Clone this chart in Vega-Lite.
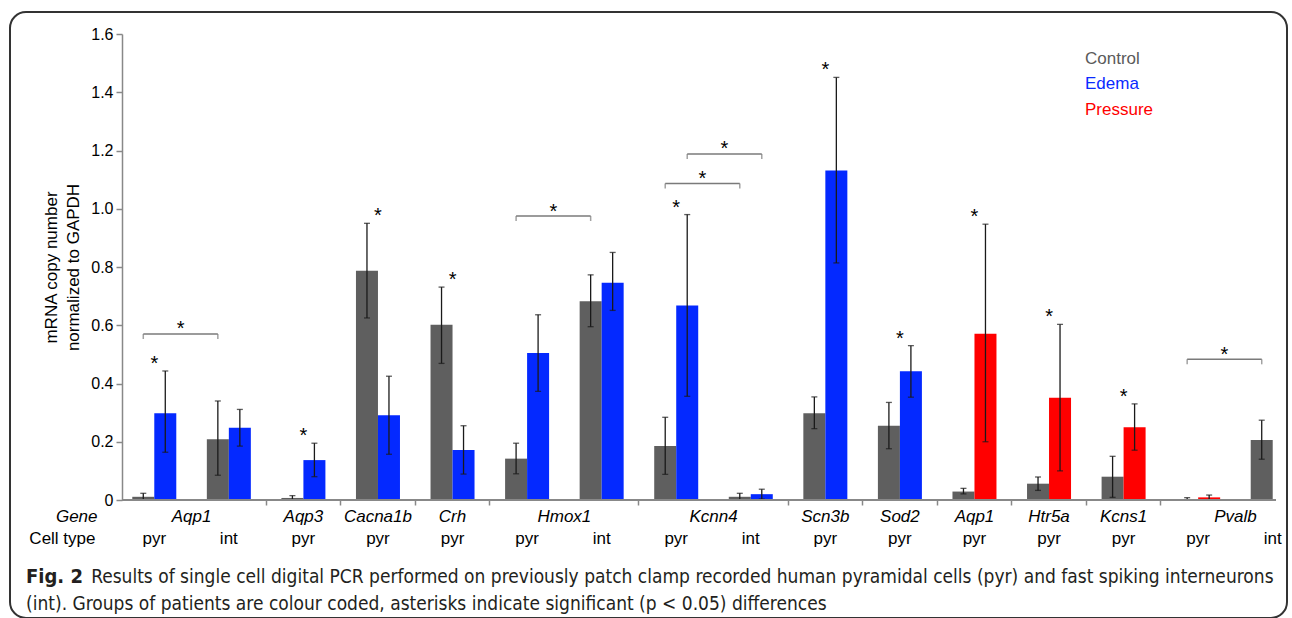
{
  "$schema": "https://vega.github.io/schema/vega-lite/v6.json",
  "autosize": "none",
  "padding": {"left": 10, "top": 12, "right": 3, "bottom": 0},
  "width": 1277,
  "height": 606,
  "title": {
    "text": "Fig. 2",
    "subtitle": ["\u200b\u00a0\u00a0\u00a0\u00a0\u00a0\u00a0\u00a0\u00a0\u00a0\u00a0\u00a0\u00a0Results of single cell digital PCR performed on previously patch clamp recorded human pyramidal cells (pyr) and fast spiking interneurons", "(int). Groups of patients are colour coded, asterisks indicate significant (p < 0.05) differences"],
    "orient": "bottom",
    "anchor": "start",
    "frame": "group",
    "dx": 16,
    "offset": -51,
    "font": "DejaVu Sans Condensed",
    "fontSize": 20,
    "fontWeight": "bold",
    "color": "#231f20",
    "subtitleFont": "DejaVu Sans Condensed",
    "subtitleFontSize": 19,
    "subtitleColor": "#231f20",
    "subtitlePadding": -19,
    "subtitleLineHeight": 27
  },
  "datasets": {
    "bars": [
      {"gene": "Aqp1", "cell": "pyr", "comparison": "Edema", "group": "Control", "value": 0.011, "lo": 0.0, "hi": 0.023, "sig": false},
      {"gene": "Aqp1", "cell": "pyr", "comparison": "Edema", "group": "Edema", "value": 0.298, "lo": 0.164, "hi": 0.443, "sig": true},
      {"gene": "Aqp1", "cell": "int", "comparison": "Edema", "group": "Control", "value": 0.209, "lo": 0.085, "hi": 0.340, "sig": false},
      {"gene": "Aqp1", "cell": "int", "comparison": "Edema", "group": "Edema", "value": 0.248, "lo": 0.185, "hi": 0.311, "sig": false},
      {"gene": "Aqp3", "cell": "pyr", "comparison": "Edema", "group": "Control", "value": 0.007, "lo": 0.0, "hi": 0.015, "sig": false},
      {"gene": "Aqp3", "cell": "pyr", "comparison": "Edema", "group": "Edema", "value": 0.137, "lo": 0.080, "hi": 0.195, "sig": true},
      {"gene": "Cacna1b", "cell": "pyr", "comparison": "Edema", "group": "Control", "value": 0.787, "lo": 0.625, "hi": 0.950, "sig": false},
      {"gene": "Cacna1b", "cell": "pyr", "comparison": "Edema", "group": "Edema", "value": 0.291, "lo": 0.157, "hi": 0.425, "sig": true},
      {"gene": "Crh", "cell": "pyr", "comparison": "Edema", "group": "Control", "value": 0.602, "lo": 0.469, "hi": 0.731, "sig": false},
      {"gene": "Crh", "cell": "pyr", "comparison": "Edema", "group": "Edema", "value": 0.172, "lo": 0.089, "hi": 0.255, "sig": true},
      {"gene": "Hmox1", "cell": "pyr", "comparison": "Edema", "group": "Control", "value": 0.142, "lo": 0.090, "hi": 0.195, "sig": false},
      {"gene": "Hmox1", "cell": "pyr", "comparison": "Edema", "group": "Edema", "value": 0.505, "lo": 0.373, "hi": 0.636, "sig": false},
      {"gene": "Hmox1", "cell": "int", "comparison": "Edema", "group": "Control", "value": 0.682, "lo": 0.595, "hi": 0.773, "sig": false},
      {"gene": "Hmox1", "cell": "int", "comparison": "Edema", "group": "Edema", "value": 0.746, "lo": 0.651, "hi": 0.850, "sig": false},
      {"gene": "Kcnn4", "cell": "pyr", "comparison": "Edema", "group": "Control", "value": 0.185, "lo": 0.088, "hi": 0.284, "sig": false},
      {"gene": "Kcnn4", "cell": "pyr", "comparison": "Edema", "group": "Edema", "value": 0.668, "lo": 0.356, "hi": 0.980, "sig": true},
      {"gene": "Kcnn4", "cell": "int", "comparison": "Edema", "group": "Control", "value": 0.011, "lo": 0.0, "hi": 0.023, "sig": false},
      {"gene": "Kcnn4", "cell": "int", "comparison": "Edema", "group": "Edema", "value": 0.020, "lo": 0.003, "hi": 0.037, "sig": false},
      {"gene": "Scn3b", "cell": "pyr", "comparison": "Edema", "group": "Control", "value": 0.298, "lo": 0.245, "hi": 0.354, "sig": false},
      {"gene": "Scn3b", "cell": "pyr", "comparison": "Edema", "group": "Edema", "value": 1.131, "lo": 0.814, "hi": 1.451, "sig": true},
      {"gene": "Sod2", "cell": "pyr", "comparison": "Edema", "group": "Control", "value": 0.255, "lo": 0.176, "hi": 0.335, "sig": false},
      {"gene": "Sod2", "cell": "pyr", "comparison": "Edema", "group": "Edema", "value": 0.442, "lo": 0.353, "hi": 0.530, "sig": true},
      {"gene": "Aqp1", "cell": "pyr", "comparison": "Pressure", "group": "Control", "value": 0.029, "lo": 0.021, "hi": 0.040, "sig": false},
      {"gene": "Aqp1", "cell": "pyr", "comparison": "Pressure", "group": "Pressure", "value": 0.571, "lo": 0.200, "hi": 0.947, "sig": true},
      {"gene": "Htr5a", "cell": "pyr", "comparison": "Pressure", "group": "Control", "value": 0.056, "lo": 0.033, "hi": 0.079, "sig": false},
      {"gene": "Htr5a", "cell": "pyr", "comparison": "Pressure", "group": "Pressure", "value": 0.351, "lo": 0.100, "hi": 0.603, "sig": true},
      {"gene": "Kcns1", "cell": "pyr", "comparison": "Pressure", "group": "Control", "value": 0.080, "lo": 0.009, "hi": 0.150, "sig": false},
      {"gene": "Kcns1", "cell": "pyr", "comparison": "Pressure", "group": "Pressure", "value": 0.250, "lo": 0.171, "hi": 0.330, "sig": true},
      {"gene": "Pvalb", "cell": "pyr", "comparison": "Pressure", "group": "Control", "value": 0.003, "lo": 0.0, "hi": 0.008, "sig": false},
      {"gene": "Pvalb", "cell": "pyr", "comparison": "Pressure", "group": "Pressure", "value": 0.009, "lo": 0.001, "hi": 0.017, "sig": false},
      {"gene": "Pvalb", "cell": "int", "comparison": "Pressure", "group": "Control", "value": 0.206, "lo": 0.140, "hi": 0.274, "sig": false}
    ],
    "brackets": [
      {"id": "b1", "gene": "Aqp1", "cell": "pyr", "comparison": "Edema", "bar": "Control", "level": 0.570},
      {"id": "b1", "gene": "Aqp1", "cell": "int", "comparison": "Edema", "bar": "Control", "level": 0.570},
      {"id": "b2", "gene": "Hmox1", "cell": "pyr", "comparison": "Edema", "bar": "Control", "level": 0.975},
      {"id": "b2", "gene": "Hmox1", "cell": "int", "comparison": "Edema", "bar": "Control", "level": 0.975},
      {"id": "b3", "gene": "Kcnn4", "cell": "pyr", "comparison": "Edema", "bar": "Control", "level": 1.087},
      {"id": "b3", "gene": "Kcnn4", "cell": "int", "comparison": "Edema", "bar": "Control", "level": 1.087},
      {"id": "b4", "gene": "Kcnn4", "cell": "pyr", "comparison": "Edema", "bar": "Edema", "level": 1.188},
      {"id": "b4", "gene": "Kcnn4", "cell": "int", "comparison": "Edema", "bar": "Edema", "level": 1.188},
      {"id": "b5", "gene": "Pvalb", "cell": "pyr", "comparison": "Pressure", "bar": "Control", "level": 0.483},
      {"id": "b5", "gene": "Pvalb", "cell": "int", "comparison": "Pressure", "bar": "Control", "level": 0.483}
    ]
  },
  "data": {"name": "bars"},
  "transform": [
    {"calculate": "datum.gene + '|' + datum.cell + '|' + datum.comparison", "as": "key"},
    {"calculate": "datum.group === 'Control' ? 'Control' : 'Patient'", "as": "cohort"}
  ],
  "layer": [
    {
      "mark": {"type": "bar"},
      "encoding": {
        "x": {
          "field": "key", "type": "nominal",
          "scale": {"domain": ["Aqp1|pyr|Edema","Aqp1|int|Edema","Aqp3|pyr|Edema","Cacna1b|pyr|Edema","Crh|pyr|Edema","Hmox1|pyr|Edema","Hmox1|int|Edema","Kcnn4|pyr|Edema","Kcnn4|int|Edema","Scn3b|pyr|Edema","Sod2|pyr|Edema","Aqp1|pyr|Pressure","Htr5a|pyr|Pressure","Kcns1|pyr|Pressure","Pvalb|pyr|Pressure","Pvalb|int|Pressure"], "range": [107, 1300], "paddingInner": 0, "paddingOuter": 0},
          "axis": {
            "orient": "bottom", "offset": -118, "domain": false, "bandPosition": 0,
            "labelExpr": "split(datum.value, '|')[1]", "labelAngle": 0, "labelFontSize": 17, "labelBaseline": "middle",
            "labelPadding": 33, "labelOverlap": false, "labelFlush": false, "labelColor": "#000",
            "ticks": true, "tickSize": 5, "tickWidth": 1.5, "tickColor": "#888",
            "tickOpacity": {"condition": {"test": "split(datum.value, '|')[1] === 'int' || datum.value === 'Aqp1|pyr|Edema'", "value": 0}, "value": 1},
            "title": "Cell type", "titleX": 85, "titleY": 38, "titleAlign": "right", "titleBaseline": "middle",
            "titleFontSize": 17, "titleFontWeight": "normal", "titleAngle": 0, "titleColor": "#000"
          }
        },
        "xOffset": {"field": "cohort", "type": "nominal", "scale": {"domain": ["Control", "Patient"], "paddingInner": 0, "paddingOuter": 0.6945}},
        "y": {
          "field": "value", "type": "quantitative",
          "scale": {"domain": [0, 1.6], "range": [488, 22], "nice": false, "zero": true},
          "axis": {
            "orient": "left", "offset": -112, "values": [0, 0.2, 0.4, 0.6, 0.8, 1.0, 1.2, 1.4, 1.6],
            "labelExpr": "datum.value === 0 ? '0' : format(datum.value, '.1f')",
            "labelFontSize": 16, "labelPadding": 3, "labelColor": "#000", "tickSize": 6, "tickWidth": 1.5, "tickColor": "#888",
            "domainColor": "#888", "domainWidth": 1.5, "grid": false,
            "title": ["mRNA copy number", "normalized to GAPDH"], "titleFontSize": 17, "titleFontWeight": "normal",
            "titlePadding": 8, "titleLineHeight": 22, "titleColor": "#000"
          }
        },
        "color": {
          "field": "group", "type": "nominal",
          "scale": {"domain": ["Control", "Edema", "Pressure"], "range": ["#5f5f5f", "#0429ff", "#ff0000"]},
          "legend": {
            "orient": "none", "legendX": 1058, "legendY": 38, "title": null,
            "symbolSize": 0, "symbolOpacity": 0, "symbolStrokeWidth": 0, "labelOffset": 0,
            "labelFontSize": 17, "rowPadding": 7.5, "padding": 0,
            "encode": {"labels": {"update": {"fill": {"signal": "datum.value === 'Control' ? '#5a5a5a' : datum.value === 'Edema' ? '#0a2aff' : '#ff0000'"}}}}
          }
        }
      }
    },
    {
      "mark": {"type": "rule", "color": "#1a1a1a", "strokeWidth": 1.3},
      "encoding": {
        "x": {
          "field": "key", "type": "nominal",
          "scale": {"domain": ["Aqp1|pyr|Edema","Aqp1|int|Edema","Aqp3|pyr|Edema","Cacna1b|pyr|Edema","Crh|pyr|Edema","Hmox1|pyr|Edema","Hmox1|int|Edema","Kcnn4|pyr|Edema","Kcnn4|int|Edema","Scn3b|pyr|Edema","Sod2|pyr|Edema","Aqp1|pyr|Pressure","Htr5a|pyr|Pressure","Kcns1|pyr|Pressure","Pvalb|pyr|Pressure","Pvalb|int|Pressure"], "range": [107, 1300], "paddingInner": 0, "paddingOuter": 0},
          "axis": {
            "orient": "bottom", "offset": -118, "domain": false, "ticks": false,
            "labelExpr": "split(datum.value, '|')[1] === 'pyr' ? split(datum.value, '|')[0] : ''",
            "labelOffset": {"condition": {"test": "indexof(['Aqp1|pyr|Edema','Hmox1|pyr|Edema','Kcnn4|pyr|Edema','Pvalb|pyr|Pressure'], datum.value) >= 0", "value": 37.28}, "value": 0},
            "labelFontStyle": "italic", "labelFontSize": 17, "labelBaseline": "middle", "labelPadding": 16, "labelAngle": 0,
            "labelOverlap": false, "labelFlush": false, "labelColor": "#000",
            "title": "Gene", "titleFontStyle": "italic", "titleX": 87, "titleY": 16, "titleAlign": "right", "titleBaseline": "middle",
            "titleFontSize": 17, "titleFontWeight": "normal", "titleAngle": 0, "titleColor": "#000"
          }
        },
        "xOffset": {"field": "cohort", "type": "nominal", "scale": {"domain": ["Control", "Patient"], "paddingInner": 0, "paddingOuter": 0.6945}},
        "y": {"field": "lo", "type": "quantitative", "scale": {"domain": [0, 1.6], "range": [488, 22], "nice": false, "zero": true}},
        "y2": {"field": "hi"}
      }
    },
    {
      "mark": {"type": "tick", "color": "#1a1a1a", "size": 6, "thickness": 1.3},
      "encoding": {
        "x": {"field": "key", "type": "nominal", "axis": null,
          "scale": {"domain": ["Aqp1|pyr|Edema","Aqp1|int|Edema","Aqp3|pyr|Edema","Cacna1b|pyr|Edema","Crh|pyr|Edema","Hmox1|pyr|Edema","Hmox1|int|Edema","Kcnn4|pyr|Edema","Kcnn4|int|Edema","Scn3b|pyr|Edema","Sod2|pyr|Edema","Aqp1|pyr|Pressure","Htr5a|pyr|Pressure","Kcns1|pyr|Pressure","Pvalb|pyr|Pressure","Pvalb|int|Pressure"], "range": [107, 1300], "paddingInner": 0, "paddingOuter": 0}},
        "xOffset": {"field": "cohort", "type": "nominal", "scale": {"domain": ["Control", "Patient"], "paddingInner": 0, "paddingOuter": 0.6945}},
        "y": {"field": "hi", "type": "quantitative", "scale": {"domain": [0, 1.6], "range": [488, 22], "nice": false, "zero": true}}
      }
    },
    {
      "mark": {"type": "tick", "color": "#1a1a1a", "size": 6, "thickness": 1.3},
      "encoding": {
        "x": {"field": "key", "type": "nominal", "axis": null,
          "scale": {"domain": ["Aqp1|pyr|Edema","Aqp1|int|Edema","Aqp3|pyr|Edema","Cacna1b|pyr|Edema","Crh|pyr|Edema","Hmox1|pyr|Edema","Hmox1|int|Edema","Kcnn4|pyr|Edema","Kcnn4|int|Edema","Scn3b|pyr|Edema","Sod2|pyr|Edema","Aqp1|pyr|Pressure","Htr5a|pyr|Pressure","Kcns1|pyr|Pressure","Pvalb|pyr|Pressure","Pvalb|int|Pressure"], "range": [107, 1300], "paddingInner": 0, "paddingOuter": 0}},
        "xOffset": {"field": "cohort", "type": "nominal", "scale": {"domain": ["Control", "Patient"], "paddingInner": 0, "paddingOuter": 0.6945}},
        "y": {"field": "lo", "type": "quantitative", "scale": {"domain": [0, 1.6], "range": [488, 22], "nice": false, "zero": true}}
      }
    },
    {
      "transform": [
        {"joinaggregate": [{"op": "max", "field": "hi", "as": "top"}], "groupby": ["key"]},
        {"filter": "datum.sig"}
      ],
      "mark": {"type": "text", "text": "*", "fontSize": 20, "baseline": "alphabetic", "dy": -1, "color": "#000"},
      "encoding": {
        "x": {"field": "key", "type": "nominal", "axis": null,
          "scale": {"domain": ["Aqp1|pyr|Edema","Aqp1|int|Edema","Aqp3|pyr|Edema","Cacna1b|pyr|Edema","Crh|pyr|Edema","Hmox1|pyr|Edema","Hmox1|int|Edema","Kcnn4|pyr|Edema","Kcnn4|int|Edema","Scn3b|pyr|Edema","Sod2|pyr|Edema","Aqp1|pyr|Pressure","Htr5a|pyr|Pressure","Kcns1|pyr|Pressure","Pvalb|pyr|Pressure","Pvalb|int|Pressure"], "range": [107, 1300], "paddingInner": 0, "paddingOuter": 0}},
        "y": {"field": "top", "type": "quantitative", "scale": {"domain": [0, 1.6], "range": [488, 22], "nice": false, "zero": true}}
      }
    },
    {
      "data": {"name": "brackets"},
      "transform": [
        {"calculate": "datum.gene + '|' + datum.cell + '|' + datum.comparison", "as": "key"},
        {"filter": "datum.bar === 'Control'"}
      ],
      "mark": {"type": "line", "color": "#7a7a7a", "strokeWidth": 1.5},
      "encoding": {
        "x": {"field": "key", "type": "nominal", "axis": null, "bandPosition": 0.3525,
          "scale": {"domain": ["Aqp1|pyr|Edema","Aqp1|int|Edema","Aqp3|pyr|Edema","Cacna1b|pyr|Edema","Crh|pyr|Edema","Hmox1|pyr|Edema","Hmox1|int|Edema","Kcnn4|pyr|Edema","Kcnn4|int|Edema","Scn3b|pyr|Edema","Sod2|pyr|Edema","Aqp1|pyr|Pressure","Htr5a|pyr|Pressure","Kcns1|pyr|Pressure","Pvalb|pyr|Pressure","Pvalb|int|Pressure"], "range": [107, 1300], "paddingInner": 0, "paddingOuter": 0}},
        "y": {"field": "level", "type": "quantitative", "scale": {"domain": [0, 1.6], "range": [488, 22], "nice": false, "zero": true}},
        "detail": {"field": "id", "type": "nominal"}
      }
    },
    {
      "data": {"name": "brackets"},
      "transform": [
        {"calculate": "datum.gene + '|' + datum.cell + '|' + datum.comparison", "as": "key"},
        {"filter": "datum.bar === 'Edema'"}
      ],
      "mark": {"type": "line", "color": "#7a7a7a", "strokeWidth": 1.5},
      "encoding": {
        "x": {"field": "key", "type": "nominal", "axis": null, "bandPosition": 0.6475,
          "scale": {"domain": ["Aqp1|pyr|Edema","Aqp1|int|Edema","Aqp3|pyr|Edema","Cacna1b|pyr|Edema","Crh|pyr|Edema","Hmox1|pyr|Edema","Hmox1|int|Edema","Kcnn4|pyr|Edema","Kcnn4|int|Edema","Scn3b|pyr|Edema","Sod2|pyr|Edema","Aqp1|pyr|Pressure","Htr5a|pyr|Pressure","Kcns1|pyr|Pressure","Pvalb|pyr|Pressure","Pvalb|int|Pressure"], "range": [107, 1300], "paddingInner": 0, "paddingOuter": 0}},
        "y": {"field": "level", "type": "quantitative", "scale": {"domain": [0, 1.6], "range": [488, 22], "nice": false, "zero": true}},
        "detail": {"field": "id", "type": "nominal"}
      }
    },
    {
      "data": {"name": "brackets"},
      "transform": [
        {"calculate": "datum.gene + '|' + datum.cell + '|' + datum.comparison", "as": "key"},
        {"filter": "datum.bar === 'Control'"}
      ],
      "mark": {"type": "tick", "orient": "vertical", "color": "#7a7a7a", "size": 5, "thickness": 1.5, "yOffset": 2.5},
      "encoding": {
        "x": {"field": "key", "type": "nominal", "axis": null, "bandPosition": 0.3525,
          "scale": {"domain": ["Aqp1|pyr|Edema","Aqp1|int|Edema","Aqp3|pyr|Edema","Cacna1b|pyr|Edema","Crh|pyr|Edema","Hmox1|pyr|Edema","Hmox1|int|Edema","Kcnn4|pyr|Edema","Kcnn4|int|Edema","Scn3b|pyr|Edema","Sod2|pyr|Edema","Aqp1|pyr|Pressure","Htr5a|pyr|Pressure","Kcns1|pyr|Pressure","Pvalb|pyr|Pressure","Pvalb|int|Pressure"], "range": [107, 1300], "paddingInner": 0, "paddingOuter": 0}},
        "y": {"field": "level", "type": "quantitative", "scale": {"domain": [0, 1.6], "range": [488, 22], "nice": false, "zero": true}}
      }
    },
    {
      "data": {"name": "brackets"},
      "transform": [
        {"calculate": "datum.gene + '|' + datum.cell + '|' + datum.comparison", "as": "key"},
        {"filter": "datum.bar === 'Edema'"}
      ],
      "mark": {"type": "tick", "orient": "vertical", "color": "#7a7a7a", "size": 5, "thickness": 1.5, "yOffset": 2.5},
      "encoding": {
        "x": {"field": "key", "type": "nominal", "axis": null, "bandPosition": 0.6475,
          "scale": {"domain": ["Aqp1|pyr|Edema","Aqp1|int|Edema","Aqp3|pyr|Edema","Cacna1b|pyr|Edema","Crh|pyr|Edema","Hmox1|pyr|Edema","Hmox1|int|Edema","Kcnn4|pyr|Edema","Kcnn4|int|Edema","Scn3b|pyr|Edema","Sod2|pyr|Edema","Aqp1|pyr|Pressure","Htr5a|pyr|Pressure","Kcns1|pyr|Pressure","Pvalb|pyr|Pressure","Pvalb|int|Pressure"], "range": [107, 1300], "paddingInner": 0, "paddingOuter": 0}},
        "y": {"field": "level", "type": "quantitative", "scale": {"domain": [0, 1.6], "range": [488, 22], "nice": false, "zero": true}}
      }
    },
    {
      "data": {"name": "brackets"},
      "transform": [
        {"calculate": "datum.gene + '|' + datum.cell + '|' + datum.comparison", "as": "key"},
        {"filter": "datum.bar === 'Control' && datum.cell === 'pyr'"}
      ],
      "mark": {"type": "text", "text": "*", "fontSize": 20, "baseline": "alphabetic", "dx": 37.28, "dy": 1.5, "color": "#000"},
      "encoding": {
        "x": {"field": "key", "type": "nominal", "axis": null, "bandPosition": 0.3525,
          "scale": {"domain": ["Aqp1|pyr|Edema","Aqp1|int|Edema","Aqp3|pyr|Edema","Cacna1b|pyr|Edema","Crh|pyr|Edema","Hmox1|pyr|Edema","Hmox1|int|Edema","Kcnn4|pyr|Edema","Kcnn4|int|Edema","Scn3b|pyr|Edema","Sod2|pyr|Edema","Aqp1|pyr|Pressure","Htr5a|pyr|Pressure","Kcns1|pyr|Pressure","Pvalb|pyr|Pressure","Pvalb|int|Pressure"], "range": [107, 1300], "paddingInner": 0, "paddingOuter": 0}},
        "y": {"field": "level", "type": "quantitative", "scale": {"domain": [0, 1.6], "range": [488, 22], "nice": false, "zero": true}}
      }
    },
    {
      "data": {"name": "brackets"},
      "transform": [
        {"calculate": "datum.gene + '|' + datum.cell + '|' + datum.comparison", "as": "key"},
        {"filter": "datum.bar === 'Edema' && datum.cell === 'pyr'"}
      ],
      "mark": {"type": "text", "text": "*", "fontSize": 20, "baseline": "alphabetic", "dx": 37.28, "dy": 1.5, "color": "#000"},
      "encoding": {
        "x": {"field": "key", "type": "nominal", "axis": null, "bandPosition": 0.6475,
          "scale": {"domain": ["Aqp1|pyr|Edema","Aqp1|int|Edema","Aqp3|pyr|Edema","Cacna1b|pyr|Edema","Crh|pyr|Edema","Hmox1|pyr|Edema","Hmox1|int|Edema","Kcnn4|pyr|Edema","Kcnn4|int|Edema","Scn3b|pyr|Edema","Sod2|pyr|Edema","Aqp1|pyr|Pressure","Htr5a|pyr|Pressure","Kcns1|pyr|Pressure","Pvalb|pyr|Pressure","Pvalb|int|Pressure"], "range": [107, 1300], "paddingInner": 0, "paddingOuter": 0}},
        "y": {"field": "level", "type": "quantitative", "scale": {"domain": [0, 1.6], "range": [488, 22], "nice": false, "zero": true}}
      }
    },
    {
      "mark": {"type": "rule", "color": "#888", "strokeWidth": 1.5},
      "encoding": {
        "x": {"datum": "Aqp1|pyr|Edema", "type": "nominal", "bandPosition": 0.067, "axis": null,
          "scale": {"domain": ["Aqp1|pyr|Edema","Aqp1|int|Edema","Aqp3|pyr|Edema","Cacna1b|pyr|Edema","Crh|pyr|Edema","Hmox1|pyr|Edema","Hmox1|int|Edema","Kcnn4|pyr|Edema","Kcnn4|int|Edema","Scn3b|pyr|Edema","Sod2|pyr|Edema","Aqp1|pyr|Pressure","Htr5a|pyr|Pressure","Kcns1|pyr|Pressure","Pvalb|pyr|Pressure","Pvalb|int|Pressure"], "range": [107, 1300], "paddingInner": 0, "paddingOuter": 0}},
        "x2": {"datum": "Pvalb|int|Pressure", "bandPosition": 0.54},
        "y": {"datum": 0, "type": "quantitative", "scale": {"domain": [0, 1.6], "range": [488, 22], "nice": false, "zero": true}}
      }
    }
  ],
  "resolve": {"axis": {"x": "independent"}},
  "config": {
    "font": "Liberation Sans",
    "view": {"stroke": "#333333", "strokeWidth": 2, "cornerRadius": 16},
    "axis": {"grid": false, "labelFont": "Liberation Sans", "titleFont": "Liberation Sans"},
    "legend": {"labelFont": "Liberation Sans"}
  }
}
